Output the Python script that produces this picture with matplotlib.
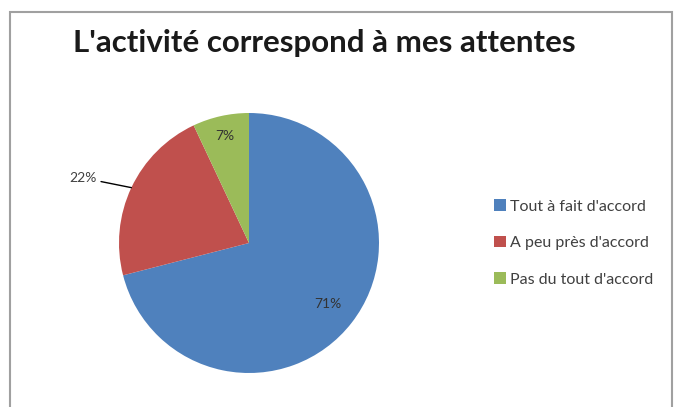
import numpy as np
import matplotlib.pyplot as plt
from matplotlib.patches import Rectangle

# donnees du graphique
categories = ["Tout à fait d'accord", "A peu près d'accord", "Pas du tout d'accord"]
valeurs = [71, 22, 7]
couleurs = ['#4F81BD', '#C0504D', '#9BBB59']
titre = "L'activité correspond à mes attentes"

plt.rcParams['font.family'] = ['Lato', 'DejaVu Sans']

fig = plt.figure(figsize=(6.8, 4.07), dpi=100)

# cadre gris autour du graphique
fig.patches.append(Rectangle((10 / 680, -0.1), 662 / 680, 1.1 - 12 / 407,
                             transform=fig.transFigure, fill=False,
                             edgecolor='#A0A0A0', linewidth=1.5))

ax = fig.add_axes([119 / 680, 1 - 373 / 407, 260 / 680, 260 / 407])
wedges, _ = ax.pie(valeurs, colors=couleurs, startangle=90, counterclock=False,
                   radius=1.0)
ax.set_xlim(-1, 1)
ax.set_ylim(-1, 1)
ax.set_aspect('equal')
ax.axis('off')

# etiquettes de pourcentage
dist = [0.77, None, 0.845]
for w, v, d in zip(wedges, valeurs, dist):
    ang = np.deg2rad((w.theta1 + w.theta2) / 2)
    if d is None:
        # etiquette a l'exterieur avec trait de rappel
        ax.annotate(f"{v}%", xy=(np.cos(ang), np.sin(ang)),
                    xytext=(-1.17, 0.5), ha='right', va='center', fontsize=10,
                    color='#404040',
                    arrowprops=dict(arrowstyle='-', color='black', lw=1,
                                    shrinkA=1, shrinkB=0))
    else:
        ax.text(d * np.cos(ang), d * np.sin(ang), f"{v}%", ha='center',
                va='center', fontsize=10, color='#333333')

fig.text(324 / 680, 1 - 43 / 407, titre, ha='center', va='center',
         fontsize=22.5, fontweight='bold', color='#1a1a1a')

leg = fig.legend(wedges, categories, loc='center left',
                 bbox_to_anchor=(480 / 680, 1 - 243 / 407), frameon=False,
                 fontsize=11.5, handlelength=0.7, handleheight=0.7,
                 handletextpad=0.3, labelspacing=1.4, labelcolor='#404040')

fig.savefig('out.png', dpi=100)
